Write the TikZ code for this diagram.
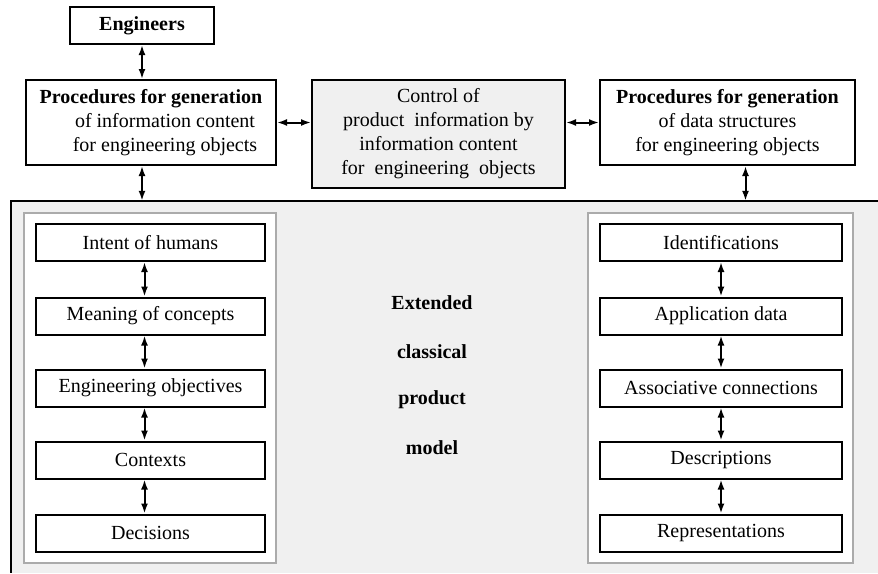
\documentclass[tikz,border=0pt]{standalone}
\usepackage{fontspec}
\setmainfont{Liberation Serif}
\usetikzlibrary{arrows.meta}
\definecolor{shade}{HTML}{F0F0F0}
\definecolor{rim}{HTML}{ABABAB}

\begin{document}
\begin{tikzpicture}[x=1pt,y=-1pt]
\tikzstyle{every node}+=[inner sep=0pt, font=\fontsize{20}{24}\selectfont]
\tikzstyle{blk}=[draw=black, line width=2pt, fill=white, minimum height=37pt]
\tikzstyle{link}=[line width=2pt, {Latex[length=10pt,width=7pt]}-{Latex[length=10pt,width=7pt]}]
\useasboundingbox (0,0) rectangle (878,573);
% model area
\node (model) [fill=shade, minimum width=867pt, minimum height=372pt] at (444.5,387) {};
\draw [black, line width=2pt] (model.north east) -- (model.north west) -- (model.south west);
\node (lpanel) [draw=rim, line width=2pt, fill=white, minimum width=252pt, minimum height=350pt] at (150,388) {};
\node (rpanel) [draw=rim, line width=2pt, fill=white, minimum width=265pt, minimum height=350pt] at (720.5,388) {};
% top row
\node (eng) [blk, minimum width=144pt] at (142,25.5) {\textbf{Engineers}};
\node (lproc) [blk, minimum width=250pt, minimum height=85pt, align=center] at (151,122.5)
  {\textbf{Procedures for generation}\\ \hspace*{28pt}of information content\\ \hspace*{28pt}for engineering objects};
\node (ctrl) [blk, fill=shade, minimum width=253pt, minimum height=108pt, align=center] at (438.5,134)
  {Control of\\ product\ \ information by\\ information content\\ for\ \ engineering\ \ objects};
\node (rproc) [blk, minimum width=255pt, minimum height=85pt, align=center] at (727.5,122.5)
  {\textbf{Procedures for generation}\\ of data structures\\ for engineering objects};
% left column
\node (intent) [blk, minimum width=229pt] at (150.5,242.5) {Intent of humans};
\node (meaning) [blk, minimum width=229pt] at (150.5,316) {Meaning of concepts};
\node (objectives) [blk, minimum width=229pt] at (150.5,388) {Engineering objectives};
\node (contexts) [blk, minimum width=229pt] at (150.5,460) {Contexts};
\node (decisions) [blk, minimum width=229pt] at (150.5,533) {Decisions};
% right column
\node (ident) [blk, minimum width=242pt] at (721,242.5) {Identifications};
\node (appdata) [blk, minimum width=242pt] at (721,316) {Application data};
\node (assoc) [blk, minimum width=242pt] at (721,388) {Associative connections};
\node (descr) [blk, minimum width=242pt] at (721,460) {Descriptions};
\node (repr) [blk, minimum width=242pt] at (721,533) {Representations};
% centre label
\node (ext) at (432,303) {\textbf{Extended}};
\node (class) at (432,352) {\textbf{classical}};
\node (prod) at (432,400) {\textbf{product}};
\node (mdl) at (432,448) {\textbf{model}};
% links
\draw [link] (eng.south) -- (eng.south |- lproc.north);
\draw [link] (eng.south |- lproc.south) -- (eng.south |- model.north);
\draw [link] (lproc.east) -- (ctrl.west |- lproc.east);
\draw [link] (ctrl.east |- rproc.west) -- (rproc.west);
\draw [link] ([xshift=18pt]rproc.south) -- ([xshift=18pt]rproc.south |- model.north);
\draw [link] ([xshift=-6pt]intent.south) -- ([xshift=-6pt]meaning.north);
\draw [link] ([xshift=-6pt]meaning.south) -- ([xshift=-6pt]objectives.north);
\draw [link] ([xshift=-6pt]objectives.south) -- ([xshift=-6pt]contexts.north);
\draw [link] ([xshift=-6pt]contexts.south) -- ([xshift=-6pt]decisions.north);
\draw [link] (ident.south) -- (appdata.north);
\draw [link] (appdata.south) -- (assoc.north);
\draw [link] (assoc.south) -- (descr.north);
\draw [link] (descr.south) -- (repr.north);
\end{tikzpicture}
\end{document}
